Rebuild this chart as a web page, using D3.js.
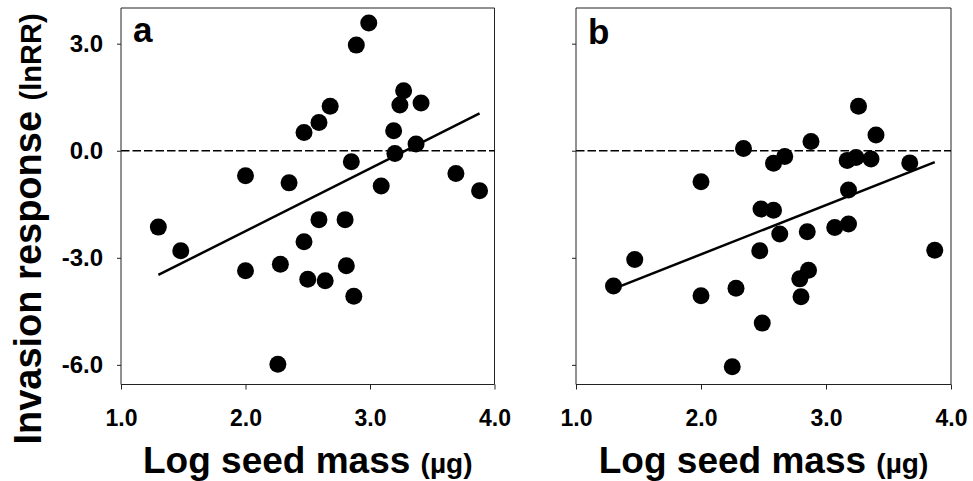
<!DOCTYPE html>
<html>
<head>
<meta charset="utf-8">
<script src="https://cdn.jsdelivr.net/npm/d3@7"></script>
<style>
  body { margin: 0; background: #fff; }
  text { font-family: "Liberation Sans", Arial, sans-serif; font-weight: bold; fill: #000; }
</style>
</head>
<body>
<div id="chart"></div>
<script>
// panel a : log seed mass vs invasion response
const seedMassA = [1.30, 1.48, 2.00, 2.00, 2.35, 2.26, 2.28, 2.47, 2.47, 2.50, 2.59, 2.59, 2.64, 2.68, 2.80,
  2.81, 2.87, 2.85, 2.89, 2.99, 3.09, 3.19, 3.20, 3.24, 3.27, 3.37, 3.41, 3.69, 3.88];
const responseA = [-2.14, -2.80, -0.70, -3.36, -0.90, -5.98, -3.18, 0.51, -2.55, -3.60, 0.79, -1.93, -3.64, 1.25, -1.93,
  -3.22, -4.08, -0.31, 2.96, 3.58, -0.99, 0.56, -0.08, 1.28, 1.68, 0.19, 1.34, -0.64, -1.12];
const fitA = [[1.30, -3.48], [3.88, 1.045]];

// panel b
const seedMassB = [1.30, 1.47, 2.00, 2.00, 2.28, 2.25, 2.34, 2.48, 2.47, 2.49, 2.58, 2.58, 2.67, 2.63, 2.85,
  2.79, 2.86, 2.80, 2.88, 3.07, 3.18, 3.18, 3.17, 3.24, 3.26, 3.36, 3.40, 3.67, 3.87];
const responseB = [-3.79, -3.05, -0.87, -4.06, -3.85, -6.05, 0.06, -1.63, -2.80, -4.83, -1.67, -0.35, -0.16, -2.33, -2.27,
  -3.59, -3.35, -4.09, 0.26, -2.15, -2.05, -1.10, -0.27, -0.19, 1.25, -0.23, 0.44, -0.34, -2.79];
const fitB = [[1.30, -3.87], [3.87, -0.32]];

const xTicks = [1, 2, 3, 4];
const yTicks = [3, 0, -3, -6];

const width = 973, height = 481;
const fmt = (d) => d.toFixed(1); // plain hyphen like the original

const svg = d3.select("#chart").append("svg")
  .attr("width", width)
  .attr("height", height);

const panels = [
  { label: "a", xs: seedMassA, ys: responseA, fit: fitA, left: 121, right: 494.5, top: 8, bottom: 384.5, yLabels: true, labelY: 42 },
  { label: "b", xs: seedMassB, ys: responseB, fit: fitB, left: 576, right: 951, top: 8, bottom: 384.5, yLabels: false, labelY: 44 }
];

function styleTicks(sel, size) {
  sel.selectAll("text")
    .attr("fill", "#000")
    .style("font-family", "'Liberation Sans', Arial, sans-serif")
    .style("font-weight", "bold")
    .style("font-size", size + "px");
  sel.selectAll(".tick line").attr("stroke", "#222");
}

panels.forEach((p) => {
  const x = d3.scaleLinear([1, 4], [p.left, p.right]);
  const y = d3.scaleLinear([-6.55, 4.0], [p.bottom, p.top]);

  const g = svg.append("g");

  // frame top + right
  g.append("path")
    .attr("d", `M${p.left},${p.top}H${p.right}V${p.bottom}`)
    .attr("fill", "none")
    .attr("stroke", "#222")
    .attr("stroke-width", 1);

  // zero reference line
  g.append("line")
    .attr("x1", p.left)
    .attr("x2", p.right)
    .attr("y1", y(0))
    .attr("y2", y(0))
    .attr("stroke", "#000")
    .attr("stroke-width", 1.3)
    .attr("stroke-dasharray", "8.5,3");

  const yAxis = g.append("g")
    .attr("transform", `translate(${p.left},0)`)
    .call(d3.axisLeft(y).tickValues(yTicks).tickSize(4).tickPadding(14)
      .tickFormat(p.yLabels ? fmt : () => ""));
  yAxis.select(".domain").attr("d", `M0,${p.top}V${p.bottom}`).attr("stroke", "#222");
  styleTicks(yAxis, 24);

  const xAxis = g.append("g")
    .attr("transform", `translate(0,${p.bottom})`)
    .call(d3.axisBottom(x).tickValues(xTicks).tickSize(5).tickPadding(20).tickFormat(fmt));
  xAxis.select(".domain").attr("d", `M${p.left},0H${p.right}`).attr("stroke", "#222");
  styleTicks(xAxis, 23);

  // regression line
  g.append("line")
    .attr("x1", x(p.fit[0][0]))
    .attr("y1", y(p.fit[0][1]))
    .attr("x2", x(p.fit[1][0]))
    .attr("y2", y(p.fit[1][1]))
    .attr("stroke", "#000")
    .attr("stroke-width", 2.5);

  // points
  g.selectAll("circle")
    .data(p.xs.map((v, i) => [v, p.ys[i]]))
    .join("circle")
    .attr("cx", (d) => x(d[0]))
    .attr("cy", (d) => y(d[1]))
    .attr("r", 8.5)
    .attr("fill", "#000");

  // panel letter
  g.append("text")
    .attr("x", p.left + 12)
    .attr("y", p.labelY)
    .attr("font-size", 35)
    .text(p.label);

  // x title
  const xt = g.append("text")
    .attr("x", (p.left + p.right) / 2)
    .attr("y", 473)
    .attr("text-anchor", "middle")
    .attr("font-size", 37);
  xt.append("tspan").text("Log seed mass ");
  xt.append("tspan").attr("font-size", 28).text("(µg)");
});

// y title
const yt = svg.append("text")
  .attr("transform", "translate(41,229) rotate(-90)")
  .attr("text-anchor", "middle")
  .attr("font-size", 38);
yt.append("tspan").text("Invasion response ");
yt.append("tspan").attr("font-size", 29).text("(lnRR)");
</script>
</body>
</html>
